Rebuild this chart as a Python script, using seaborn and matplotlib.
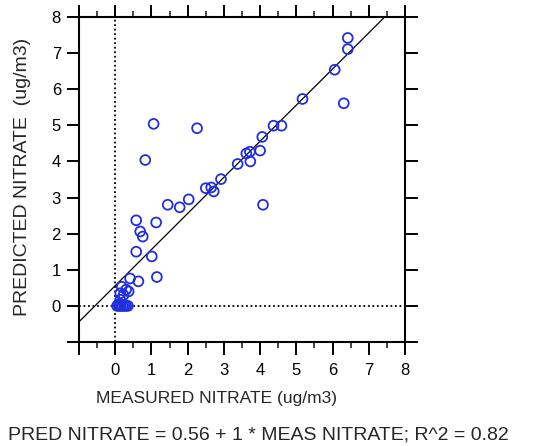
import matplotlib
matplotlib.use("Agg")
import matplotlib.pyplot as plt
import seaborn as sns
import pandas as pd
from matplotlib.ticker import MultipleLocator

measured = [6.42, 6.42, 6.06, 5.17, 6.31, 4.37, 4.59, 4.06, 1.06, 2.26, 0.83,
            3.62, 3.72, 4.00, 3.73, 3.38, 2.92, 2.50, 2.65, 2.72, 2.03, 1.78,
            1.45, 4.08, 0.58, 1.13, 0.69, 0.76, 0.58, 1.01, 0.64, 0.41, 1.15,
            0.18, 0.37, 0.23, 0.14, 0.14, 0.30,
            0.05, 0.10, 0.15, 0.20, 0.25, 0.30, 0.35, 0.10]
predicted = [7.42, 7.11, 6.54, 5.73, 5.61, 4.99, 4.99, 4.68, 5.04, 4.92, 4.04,
             4.22, 4.27, 4.30, 4.00, 3.93, 3.51, 3.26, 3.28, 3.17, 2.95, 2.73,
             2.80, 2.80, 2.37, 2.31, 2.06, 1.92, 1.50, 1.37, 0.68, 0.76, 0.80,
             0.53, 0.40, 0.30, 0.35, 0.17, 0.45,
             0.00, 0.00, 0.00, 0.00, 0.00, 0.00, 0.00, 0.05]
intercept = 0.56
slope = 1.0
tick_values = [-1, 0, 1, 2, 3, 4, 5, 6, 7, 8]
tick_labels = ["", "0", "1", "2", "3", "4", "5", "6", "7", "8"]

sns.set_style("white")
plt.rcParams['font.family'] = ['Liberation Sans', 'DejaVu Sans']

df = pd.DataFrame({"measured": measured, "predicted": predicted})

fig = plt.figure(figsize=(5.41, 4.46), dpi=100)
ax = fig.add_axes([79/541, 1 - 342/446, (405-79)/541, (342-17)/446])

ax.axvline(0, color="black", linestyle=(0, (1, 1.5)), linewidth=1.3, zorder=1)
ax.axhline(0, color="black", linestyle=(0, (1, 1.5)), linewidth=1.3, zorder=1)
ax.axline((0, intercept), slope=slope, color="black", linewidth=0.9, zorder=2)

sns.scatterplot(data=df, x="measured", y="predicted", ax=ax, marker="o",
                s=50, zorder=3, legend=False)
coll = ax.collections[-1]
coll.set_facecolor("none")
coll.set_edgecolor("#1f2fe0")
coll.set_linewidth(1.3)

ax.set_xlim(-1, 8)
ax.set_ylim(-1, 8)
ax.set_xticks(tick_values)
ax.set_xticklabels(tick_labels)
ax.set_yticks(tick_values)
ax.set_yticklabels(tick_labels)
ax.xaxis.set_minor_locator(MultipleLocator(0.5))

for s in ax.spines.values():
    s.set_visible(True)
    s.set_color("black")
    s.set_linewidth(1.5)

ax.tick_params(axis="both", which="major", direction="out", length=9, width=1.4,
               colors="black", labelsize=12, top=True, right=True,
               labeltop=False, labelright=False, bottom=True, left=True)
ax.tick_params(axis="x", which="minor", direction="out", length=4, width=1.2,
               top=True, bottom=True)
ax.tick_params(axis="x", which="major", pad=6)
ax.tick_params(axis="y", which="major", pad=4)

ax.set_xlabel("")
ax.set_ylabel("")
fig.text(217/541, 1 - 399/446, "MEASURED NITRATE (ug/m3)", ha="center", va="center", fontsize=12.5)
fig.text(23/541, 1 - 177/446, "PREDICTED NITRATE  (ug/m3)", ha="center", va="center",
         rotation=90, fontsize=14)
fig.text(258/541, 1 - 435/446, "PRED NITRATE = 0.56 + 1 * MEAS NITRATE; R^2 = 0.82",
         ha="center", va="center", fontsize=14)

fig.savefig("out.png", dpi=100)
